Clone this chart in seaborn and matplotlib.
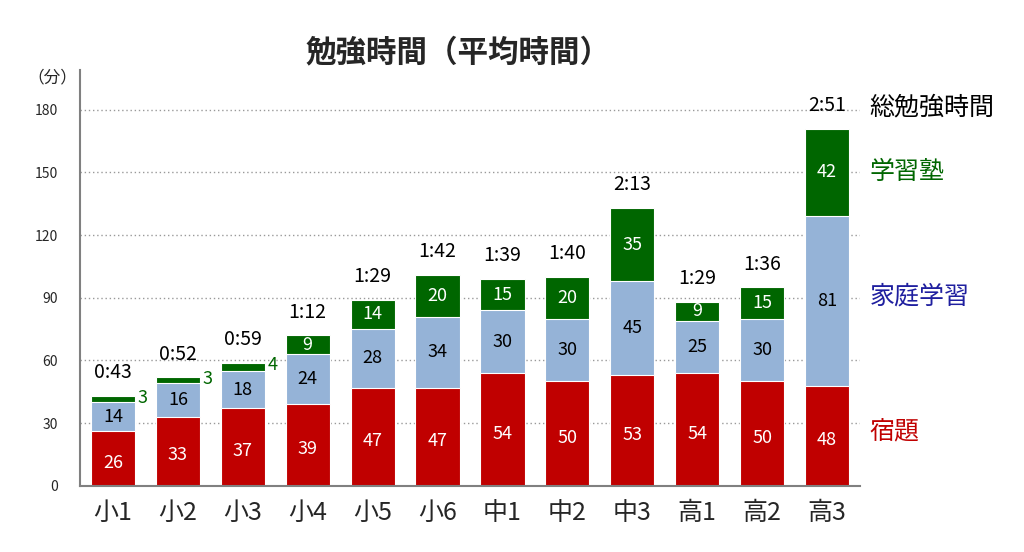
import pandas as pd
import matplotlib.pyplot as plt
import seaborn as sns

grades = ["小1", "小2", "小3", "小4", "小5", "小6", "中1", "中2", "中3", "高1", "高2", "高3"]
homework = [26, 33, 37, 39, 47, 47, 54, 50, 53, 54, 50, 48]
home_study = [14, 16, 18, 24, 28, 34, 30, 30, 45, 25, 30, 81]
juku = [3, 3, 4, 9, 14, 20, 15, 20, 35, 9, 15, 42]
total_labels = ["0:43", "0:52", "0:59", "1:12", "1:29", "1:42", "1:39", "1:40", "2:13", "1:29", "1:36", "2:51"]

sns.set_theme(style="white")
plt.rcParams["font.family"] = ["Noto Sans CJK JP", "DejaVu Sans"]

df = pd.DataFrame({"学年": grades, "宿題": homework, "家庭学習": home_study, "学習塾": juku})
df["lvl2"] = df["宿題"] + df["家庭学習"]
df["lvl3"] = df["lvl2"] + df["学習塾"]

red = "#C00000"
blue = "#95B3D7"
green = "#006600"

fig = plt.figure(figsize=(10.24, 5.52), dpi=100)
ax = fig.add_axes([0.078, 0.12, 0.762, 0.753])

# stacked bars: draw cumulative totals from the top layer down
for col, c in [("lvl3", green), ("lvl2", blue), ("宿題", red)]:
    sns.barplot(data=df, x="学年", y=col, color=c, width=0.68, saturation=1,
                edgecolor="white", linewidth=0.8, ax=ax)

for i, row in df.iterrows():
    ax.text(i, row["宿題"] / 2 - 2, str(row["宿題"]), ha="center", va="center",
            color="white", fontsize=13)
    ax.text(i, row["宿題"] + row["家庭学習"] / 2, str(row["家庭学習"]), ha="center",
            va="center", color="black", fontsize=13)
    if row["学習塾"] >= 8:
        ax.text(i, row["lvl2"] + row["学習塾"] / 2, str(row["学習塾"]), ha="center",
                va="center", color="white", fontsize=13)
    else:
        ax.text(i + 0.46, row["lvl3"] - 1, str(row["学習塾"]), ha="center",
                va="center", color=green, fontsize=13)
    ax.text(i, row["lvl3"] + 6, total_labels[i], ha="center", va="bottom",
            color="black", fontsize=14)

ax.set_ylim(0, 199)
ax.set_xlim(-0.51, 11.51)
ax.set_yticks([0, 30, 60, 90, 120, 150, 180])
ax.yaxis.grid(True, linestyle=(0, (1, 2)), color="#999999", linewidth=1)
ax.set_axisbelow(True)
ax.set_xlabel("")
ax.set_ylabel("")
ax.tick_params(axis="y", labelsize=10, length=0, pad=16)
ax.tick_params(axis="x", labelsize=18, length=0, pad=10)
for s in ["top", "right"]:
    ax.spines[s].set_visible(False)
for s in ["left", "bottom"]:
    ax.spines[s].set_color("#808080")
    ax.spines[s].set_linewidth(1.5)

fig.text(0.051, 0.858, "（分）", fontsize=12, ha="center", va="center")
fig.text(0.447, 0.905, "勉強時間（平均時間）", fontsize=22, fontweight="bold",
         ha="center", va="center")

right_x = 0.849
fig.text(right_x, 0.806, "総勉強時間", fontsize=18, color="black", ha="left", va="center")
fig.text(right_x, 0.688, "学習塾", fontsize=18, color=green, ha="left", va="center")
fig.text(right_x, 0.462, "家庭学習", fontsize=18, color="#1F1F9F", ha="left", va="center")
fig.text(right_x, 0.218, "宿題", fontsize=18, color=red, ha="left", va="center")

fig.savefig("out.png", dpi=100)
